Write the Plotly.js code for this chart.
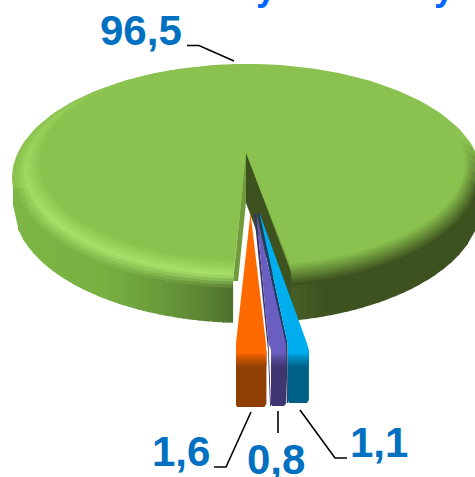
<!DOCTYPE html>
<html><head><meta charset="utf-8">
<script src="https://cdn.plot.ly/plotly-3.0.1.min.js"></script>
<style>html,body{margin:0;padding:0;background:#fff;overflow:hidden}#c{width:475px;height:477px}</style>
</head><body><div id="c"></div>
<script>
// ---- data ----
const categories = ["A", "B", "C", "D"];
const shares = [96.5, 1.6, 0.8, 1.1];
const shareLabels = ["96,5", "1,6", "0,8", "1,1"];

// ---- styling / projection of the tilted pie ----
const FACE = [139,194,79], HILITE = [166,224,106], DARK = [62,82,32];
const topColors = [null, [255,106,0], [106,95,192], [0,174,239]];
const sideColors = [null, [143,63,4], [63,53,112], [0,95,133]];
const wallColors = [null, null, [59,50,104], [28,62,105]];
const CX = 247, TOP = 64, apex = [246,153];
const gapStretch = 15/12.6;
const sliceScale = 19;           // px per percentage point at the exploded rim
const sliceLeft = [0,236,271,288];
const sliceTip = [null,[250.5,213],[256.5,215],[259.5,213]];
const wallTipX = [0,0,254,257.5];

const traces = [];
const rgb = (c,a)=> a===undefined ? `rgb(${c.map(Math.round).join(',')})` : `rgba(${c.map(Math.round).join(',')},${a})`;
const mix = (a,b,t)=>a.map((v,i)=>v+(b[i]-v)*t);
function poly(pts,color){
  traces.push({type:'scatter',mode:'lines',x:pts.map(p=>p[0]),y:pts.map(p=>p[1]),fill:'toself',
    fillcolor:color,line:{width:0,color:color},hoverinfo:'skip',showlegend:false});
}
function line(pts){
  traces.push({type:'scatter',mode:'lines',x:pts.map(p=>p[0]),y:pts.map(p=>p[1]),
    line:{width:1.6,color:'#000'},hoverinfo:'skip',showlegend:false});
}
const gapDeg = (100-shares[0])/100*360*gapStretch;
const thR = 168.6, thL = thR+gapDeg;
function arc(rx,bottom,a,b){
  const ry=(bottom-TOP)/2, cy=TOP+ry, pts=[], n=Math.max(2,Math.ceil(Math.abs(b-a)/2));
  for(let i=0;i<=n;i++){const t=(a+(b-a)*i/n)*Math.PI/180;pts.push([CX+rx*Math.sin(t),cy-ry*Math.cos(t)]);}
  return pts;
}
const cutR = CX+222*Math.sin(thR*Math.PI/180), cutL = CX+222*Math.sin(thL*Math.PI/180);
const yb = x=>{const d=(x-CX)/234;return 205+118*Math.sqrt(Math.max(0,1-d*d));};

// side wall, vertical strips
function sideLeft(x){
  const stops=[[13,[124,182,68]],[100,[120,176,66]],[150,[108,158,60]],[200,[92,132,52]],[234,[78,110,44]]];
  for(let i=1;i<stops.length;i++) if(x<=stops[i][0]){
    return mix(stops[i-1][1],stops[i][1],(x-stops[i-1][0])/(stops[i][0]-stops[i-1][0]));}
  return stops[stops.length-1][1];
}
for(let x=13;x<cutL;x+=5){
  const x2=Math.min(x+6,cutL);
  poly([[x,170],[x2,170],[x2,yb(x2)],[x,yb(x)]],rgb(sideLeft(x)));
}
for(let x=cutR;x<481;x+=8){
  const x2=Math.min(x+9,481);
  poly([[x,170],[x2,170],[x2,yb(x2)],[x,yb(x)]],rgb(mix([70,94,38],DARK,Math.min(1,(x-cutR)/30))));
}
// base of the top face, upper half
poly(arc(235,292,-95,95),rgb(FACE));

// right bevel: angular sectors, rings outer to inner
const rightSectors=[];
for(let a=70;a<thR;a+=(a<100?5:30)) rightSectors.push([a,Math.min(a+(a<100?5.3:30.3),thR),Math.min(1,(a-70)/25)]);
const nR=10;
for(let i=0;i<=nR;i++){
  const t=i/nR, rx=233-15*t, bot=288-22*t;
  rightSectors.forEach(s=>{
    const c=mix(mix(DARK,FACE,t),FACE,1-s[2]);
    poly([...arc(rx,bot,s[0],s[1]),apex],rgb(c));
  });
}
// left bevel: fades away up the rim towards the top
const leftSectors=[];
for(let a=thL;a<340;a+=(a<240?60:10)){
  const b=Math.min(a+(a<240?60:10),340);
  const f=a<240?0:Math.min(1,(a-240)/95);
  leftSectors.push([a,b+0.3,f]);
}
[.18,.28,.42,.6].forEach((al,i)=>{
  leftSectors.forEach(s=>{
    poly([...arc(232-3*i,288-3*i,s[0],s[1]),apex],rgb(HILITE,(al*(1-s[2])).toFixed(3)));
  });
});
const nL=8;
for(let i=0;i<=nL;i++){
  const t=i/nL, c0=mix(HILITE,FACE,t);
  leftSectors.forEach(s=>{
    poly([...arc(222-15*t,276-15*t,s[0],s[1]),apex],rgb(mix(c0,FACE,s[2])));
  });
}
// clean flat face over the ring joints
poly([...arc(204,258,thL-360,thR),apex],rgb(FACE));

// cut walls
poly([apex,[cutL,281],[cutL+5,281],[246,202]],'rgb(111,155,60)');
poly([apex,[cutR,272],[cutR+1,321],[cutR-1,321],[246,203]],rgb(DARK));

// exploded small slices, back to front
[3,2,1].forEach(i=>{
  const w=shares[i]*sliceScale, L=sliceLeft[i], R=L+w, tip=sliceTip[i];
  const topY=356, botY=i===3?403:(i===2?406:407);
  const flareL=i===2?-2.5:(i===3?-0.5:0), flareR=i===3?-2:-0.5;
  if(wallColors[i]){
    poly([[wallTipX[i],213],tip,[L+flareL,343],[L,botY],[L-1,botY],[L-3,350]],rgb(wallColors[i]));
  }
  poly([[L,topY-6],[R,topY-6],[R,botY-3],[R-2,botY],[L+1,botY],[L,botY-2]],rgb(sideColors[i]));
  const bands=7;
  for(let b=0;b<bands;b++){
    const y=topY-3+b*2;
    poly([[L,y-1],[R,y-1],[R,y+1.4],[L,y+1.4]],rgb(mix(topColors[i],sideColors[i],(b+1)/(bands+1))));
  }
  poly([tip,[L+flareL,343],[L,350],[L,354],[R,354],[R,350],[R+flareR,343]],rgb(topColors[i]));
});

// leader lines
line([[187,45.5],[199,45.5],[234,61]]);
line([[251,412],[226,467],[214,467]]);
line([[278,411],[278,433]]);
line([[300,410],[335,458],[347,458]]);

const labelPos = [[141,47],[181,468],[276,476],[379,459]];
const annotations = shareLabels.map((t,i)=>({x:labelPos[i][0],y:labelPos[i][1],text:t,showarrow:false,
  xanchor:'center',yanchor:'bottom',yshift:-9,font:{family:'Liberation Sans, Arial, sans-serif',size:42,color:'#0070C0',weight:700}}));
// clipped descenders of the cropped heading above the chart
[266,444].forEach(x=>annotations.push({x:x,y:1,text:'y',showarrow:false,xanchor:'center',yanchor:'bottom',yshift:-9,
  font:{family:'Liberation Sans, Arial, sans-serif',size:36,color:'#0066FF',weight:700}}));

Plotly.newPlot('c',traces,{
  width:475,height:477,margin:{l:0,r:0,t:0,b:0},paper_bgcolor:'#fff',plot_bgcolor:'#fff',showlegend:false,
  xaxis:{range:[0,475],visible:false,fixedrange:true},
  yaxis:{range:[477,0],visible:false,fixedrange:true},
  annotations:annotations
},{displayModeBar:false,staticPlot:true});
</script></body></html>
